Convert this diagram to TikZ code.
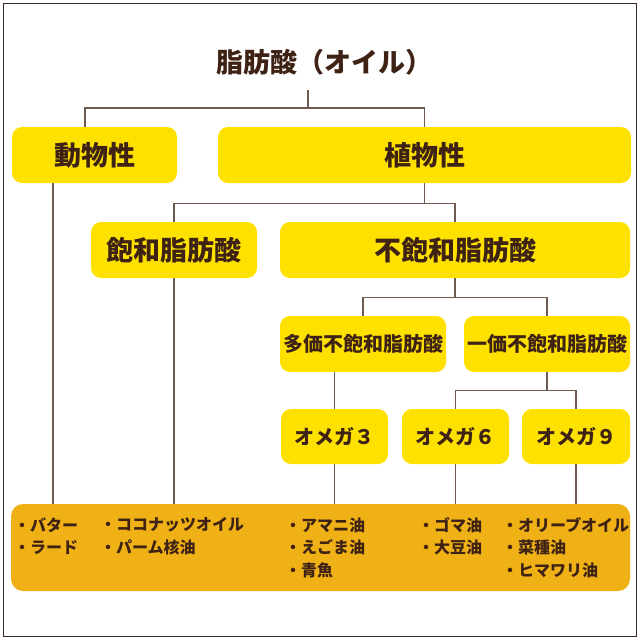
\documentclass[tikz,border=0pt]{standalone}
\usepackage{fontspec}
\newfontfamily\jp{Noto Sans CJK JP}
\usetikzlibrary{calc,backgrounds}
\definecolor{ybox}{HTML}{FFE100}
\definecolor{obox}{HTML}{F0B117}
\definecolor{txt}{HTML}{3E2314}
\definecolor{ln}{HTML}{6E5A4E}
\definecolor{framec}{HTML}{3B2A20}
\begin{document}
\begin{tikzpicture}[x=1pt,y=-1pt,
 basebox/.style={fill=ybox, rounded corners=10pt, inner sep=0pt, text=txt},
 bigbox/.style={basebox, minimum height=56pt, font=\jp\bfseries\fontsize{27}{27}\selectfont},
 midbox/.style={basebox, minimum height=56pt, font=\jp\bfseries\fontsize{20}{20}\selectfont},
 conn/.style={draw=ln, line width=1.2pt},
 itemtxt/.style={anchor=west, inner sep=0pt, text=txt, font=\jp\bfseries\fontsize{16}{16}\selectfont}]
\useasboundingbox (0,0) rectangle (640,640);
\draw[draw=framec, line width=1.5pt] (3.5,3.5) rectangle (636.5,636.5);

\node[inner sep=0pt, text=txt, font=\jp\bfseries\fontsize{27}{27}\selectfont] (title) at (324,62) {脂肪酸（オイル）};
\node[bigbox, minimum width=165pt] (dob) at (94.5,155) {動物性};
\node[bigbox, minimum width=413pt] (sho) at (424.5,155) {植物性};
\node[bigbox, minimum width=166pt] (hw) at (174,250) {飽和脂肪酸};
\node[bigbox, minimum width=350pt] (fu) at (455,250) {不飽和脂肪酸};
\node[midbox, minimum width=166pt] (ta) at (363,344) {多価不飽和脂肪酸};
\node[midbox, minimum width=166pt] (ik) at (547,344) {一価不飽和脂肪酸};
\node[midbox, minimum width=107pt, minimum height=55pt] (o3) at (334.5,436.5) {オメガ３};
\node[midbox, minimum width=107pt, minimum height=55pt] (o6) at (455.5,436.5) {オメガ６};
\node[midbox, minimum width=108pt, minimum height=55pt] (o9) at (576,436.5) {オメガ９};
\node[fill=obox, rounded corners=12pt, minimum width=619pt, minimum height=87pt, inner sep=0pt] (lst) at (320.5,547.5) {};

\node[itemtxt] (a1) at (14,525) {・バター};
\node[itemtxt] (a2) at (14,547.5) {・ラード};
\node[itemtxt] (b1) at (100,525) {・ココナッツオイル};
\node[itemtxt] (b2) at (100,547.5) {・パーム核油};
\node[itemtxt] (c1) at (285,525) {・アマニ油};
\node[itemtxt] (c2) at (285,547.5) {・えごま油};
\node[itemtxt] (c3) at (285,570) {・青魚};
\node[itemtxt] (d1) at (418,525) {・ゴマ油};
\node[itemtxt] (d2) at (418,547.5) {・大豆油};
\node[itemtxt] (e1) at (502,525) {・オリーブオイル};
\node[itemtxt] (e2) at (502,547.5) {・菜種油};
\node[itemtxt] (e3) at (502,570) {・ヒマワリ油};

\begin{scope}[on background layer]
\coordinate (t0) at (308,90);
\coordinate (jt) at (308,108);
\draw[conn] (t0) -- (jt);
\coordinate (dobin) at ($(dob.north)+(-9.5,0)$);
\draw[conn] (dobin) |- (jt) -| (sho.north);
\coordinate (dobout) at ($(dob.south)+(-41.5,0)$);
\draw[conn] (dobout) -- (dobout |- lst.north);
\coordinate (j2) at ($(sho.south)+(0,20)$);
\draw[conn] (sho.south) -- (j2);
\draw[conn] (hw.north) |- (j2) -| (fu.north);
\draw[conn] (hw.north) -- (hw.north |- lst.north);
\coordinate (j3) at ($(fu.south)+(0,19)$);
\draw[conn] (fu.south) -- (j3);
\draw[conn] (ta.north) |- (j3) -| (ik.north);
\draw[conn] (o3.north) -- (o3.north |- ta.south);
\coordinate (j4) at ($(ik.south)+(0,18)$);
\draw[conn] (ik.south) -- (j4);
\draw[conn] (o6.north) |- (j4) -| (o9.north);
\draw[conn] (o3.south) -- (o3.south |- lst.north);
\draw[conn] (o6.south) -- (o6.south |- lst.north);
\draw[conn] (o9.south) -- (o9.south |- lst.north);
\end{scope}
\end{tikzpicture}
\end{document}
